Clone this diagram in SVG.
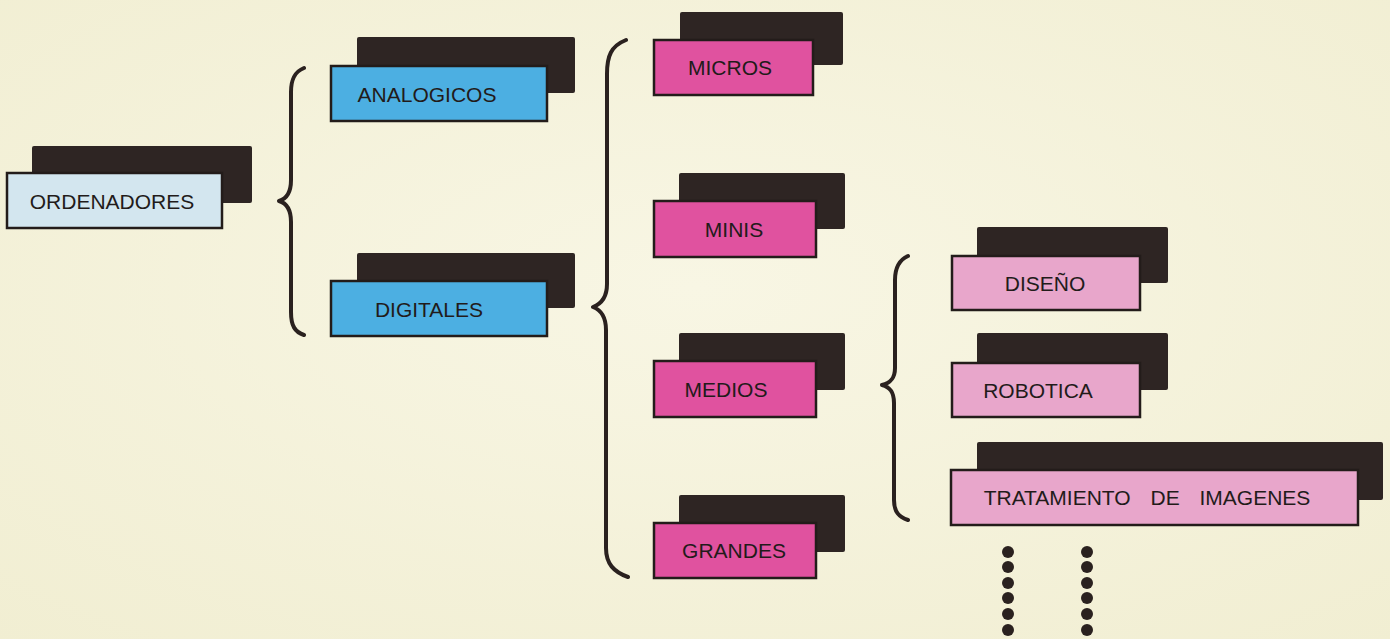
<svg xmlns="http://www.w3.org/2000/svg" width="1390" height="639" viewBox="0 0 1390 639">
  <defs>
    <radialGradient id="paper" cx="0.5" cy="0.45" r="0.75">
      <stop offset="0" stop-color="#f8f6e4"/>
      <stop offset="1" stop-color="#f1eed2"/>
    </radialGradient>
    <style>
      .shadow { fill: #2e2523; }
      .box { stroke: #231c1a; stroke-width: 2.5; }
      .root { fill: #d3e6ef; }
      .blue { fill: #4cafe2; }
      .magenta { fill: #e0529f; }
      .pink { fill: #e8a6cb; }
      .label { font-family: "Liberation Sans", Arial, sans-serif; font-size: 21px; fill: #221b1a; text-anchor: middle; }
      .brace { fill: none; stroke: #2a211f; stroke-width: 4; stroke-linecap: round; stroke-linejoin: round; }
      .dot { fill: #2a211f; }
    </style>
  </defs>

  <rect width="1390" height="639" fill="url(#paper)"/>

  <!-- Braces joining each level to the next -->
  <g id="connectors">
    <path class="brace" d="M304 68 C294 72 291 80 291 92 L291 180 C291 194 286 199 279 201 C286 203 291 208 291 222 L291 312 C291 326 295 332 304 335"/>
    <path class="brace" stroke-width="4.5" d="M626 40 C611 46 607 56 607 74 L607 284 C607 298 601 304 593 307 C601 310 606 316 606 330 L606 548 C606 564 614 572 628 577"/>
    <path class="brace" d="M908 256 C899 260 895 268 895 280 L895 368 C895 379 890 383 882 385 C890 387 894 392 894 403 L894 500 C894 512 899 517 908 520"/>
  </g>

  <g id="ordenadores">
    <rect class="shadow" x="32" y="146" width="220" height="57" rx="2"/>
    <rect class="box root" x="7" y="173" width="215" height="55"/>
    <text class="label" x="112" y="209">ORDENADORES</text>
  </g>

  <g id="analogicos">
    <rect class="shadow" x="357" y="37" width="218" height="56" rx="2"/>
    <rect class="box blue" x="331" y="66" width="216" height="55"/>
    <text class="label" x="427" y="102">ANALOGICOS</text>
  </g>

  <g id="digitales">
    <rect class="shadow" x="357" y="253" width="218" height="55" rx="2"/>
    <rect class="box blue" x="331" y="281" width="216" height="55"/>
    <text class="label" x="429" y="317">DIGITALES</text>
  </g>

  <g id="micros">
    <rect class="shadow" x="680" y="12" width="163" height="53" rx="2"/>
    <rect class="box magenta" x="654" y="40" width="159" height="55"/>
    <text class="label" x="730" y="75">MICROS</text>
  </g>

  <g id="minis">
    <rect class="shadow" x="679" y="173" width="166" height="56" rx="2"/>
    <rect class="box magenta" x="654" y="201" width="162" height="56"/>
    <text class="label" x="734" y="237">MINIS</text>
  </g>

  <g id="medios">
    <rect class="shadow" x="679" y="333" width="166" height="57" rx="2"/>
    <rect class="box magenta" x="654" y="361" width="162" height="56"/>
    <text class="label" x="726" y="397">MEDIOS</text>
  </g>

  <g id="grandes">
    <rect class="shadow" x="679" y="495" width="166" height="57" rx="2"/>
    <rect class="box magenta" x="654" y="523" width="162" height="55"/>
    <text class="label" x="734" y="558">GRANDES</text>
  </g>

  <g id="diseno">
    <rect class="shadow" x="977" y="227" width="191" height="56" rx="2"/>
    <rect class="box pink" x="952" y="256" width="188" height="54"/>
    <text class="label" x="1045" y="291">DISEÑO</text>
  </g>

  <g id="robotica">
    <rect class="shadow" x="977" y="333" width="191" height="57" rx="2"/>
    <rect class="box pink" x="952" y="363" width="188" height="54"/>
    <text class="label" x="1038" y="398">ROBOTICA</text>
  </g>

  <g id="tratamiento">
    <rect class="shadow" x="977" y="442" width="406" height="58" rx="2"/>
    <rect class="box pink" x="951" y="470" width="407" height="55"/>
    <text class="label" x="1147" y="505" word-spacing="14">TRATAMIENTO DE IMAGENES</text>
  </g>

  <!-- Two dotted columns running on below the last box -->
  <g id="continuation">
    <circle class="dot" cx="1008" cy="552" r="6"/>
    <circle class="dot" cx="1008" cy="567" r="6"/>
    <circle class="dot" cx="1008" cy="583" r="6"/>
    <circle class="dot" cx="1008" cy="598" r="6"/>
    <circle class="dot" cx="1008" cy="614" r="6"/>
    <circle class="dot" cx="1008" cy="630" r="6"/>
    <circle class="dot" cx="1087" cy="552" r="6"/>
    <circle class="dot" cx="1087" cy="567" r="6"/>
    <circle class="dot" cx="1087" cy="583" r="6"/>
    <circle class="dot" cx="1087" cy="598" r="6"/>
    <circle class="dot" cx="1087" cy="614" r="6"/>
    <circle class="dot" cx="1087" cy="630" r="6"/>
  </g>
</svg>
